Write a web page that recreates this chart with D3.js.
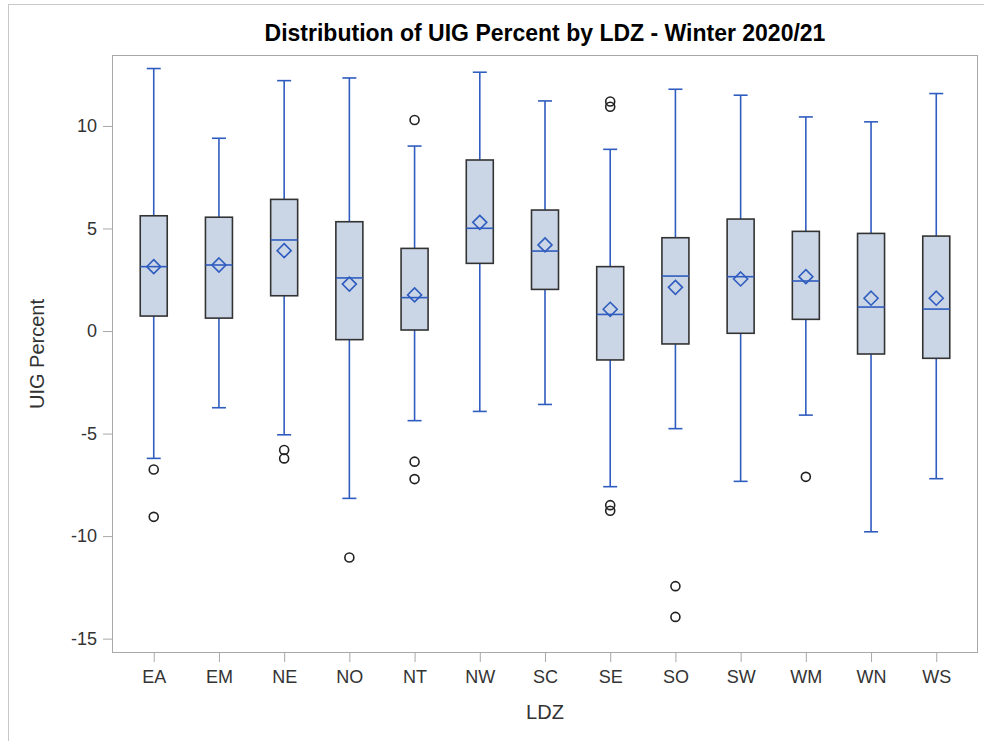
<!DOCTYPE html>
<html lang="en">
  <head>
    <meta charset="utf-8" />
    <title>UIG Percent by LDZ</title>
    <script src="https://cdn.jsdelivr.net/npm/d3@7"></script>
    <style>
      body { margin: 0; background: #fff; }
      svg { display: block; font-family: "Liberation Sans", Arial, sans-serif; }
    </style>
  </head>
  <body>
    <script>
      // values (UIG percent)
      const ldz = ["EA", "EM", "NE", "NO", "NT", "NW", "SC", "SE", "SO", "SW", "WM", "WN", "WS"];
      const whiskerLow = [-6.21, -3.74, -5.06, -8.16, -4.37, -3.92, -3.58, -7.59, -4.76, -7.33, -4.1, -9.79, -7.2];
      const q1 = [0.73, 0.63, 1.72, -0.42, 0.05, 3.3, 2.03, -1.41, -0.63, -0.11, 0.57, -1.12, -1.33];
      const median = [3.14, 3.22, 4.44, 2.59, 1.63, 5.01, 3.9, 0.81, 2.68, 2.65, 2.44, 1.17, 1.07];
      const q3 = [5.62, 5.55, 6.42, 5.33, 4.03, 8.34, 5.9, 3.14, 4.55, 5.46, 4.86, 4.76, 4.63];
      const whiskerHigh = [12.8, 9.4, 12.21, 12.34, 9.02, 12.62, 11.22, 8.86, 11.79, 11.5, 10.44, 10.2, 11.58];
      const mean = [3.14, 3.22, 3.92, 2.29, 1.76, 5.3, 4.2, 1.06, 2.13, 2.54, 2.65, 1.6, 1.6];
      const outliers = [
        [-6.75, -9.06],
        [],
        [-5.8, -6.21],
        [-11.04],
        [10.29, -6.37, -7.22],
        [],
        [],
        [11.19, 10.94, -8.49, -8.76],
        [-12.44, -13.94],
        [],
        [-7.11],
        [],
        []
      ];
      const yTicks = [-15, -10, -5, 0, 5, 10];

      const width = 984, height = 741;
      const plotL = 112, plotR = 978, plotT = 55, plotB = 653;
      const blue = "#2f5cbf", fill = "#cad5e6";

      const svg = d3.select("body").append("svg")
        .attr("width", width)
        .attr("height", height);

      // outer frame
      svg.append("rect")
        .attr("x", 8.5).attr("y", 4.5)
        .attr("width", width).attr("height", height)
        .attr("fill", "none").attr("stroke", "#c8c8c8");

      const x = d3.scalePoint().domain(ldz).range([plotL, plotR]).padding(0.64);
      const y = d3.scaleLinear().domain([-15.7, 13.46]).range([plotB, plotT]);

      // axes (plain hyphen for negatives, like the original)
      const yAxis = svg.append("g")
        .attr("transform", `translate(${plotL},0)`)
        .call(d3.axisLeft(y).tickValues(yTicks).tickSize(9).tickPadding(6).tickFormat(d => String(d)));
      const xAxis = svg.append("g")
        .attr("transform", `translate(0,${plotB})`)
        .call(d3.axisBottom(x).tickSize(9).tickPadding(8));
      [yAxis, xAxis].forEach(g => {
        g.select(".domain").remove();
        g.selectAll(".tick line").attr("stroke", "#a8a8a8");
        g.selectAll(".tick text").attr("fill", "#333").style("font-size", "18px")
          .style("font-family", "'Liberation Sans', Arial, sans-serif");
      });

      // plot frame
      svg.append("rect")
        .attr("x", plotL + 0.5).attr("y", plotT + 0.5)
        .attr("width", plotR - plotL - 1).attr("height", plotB - plotT - 1)
        .attr("fill", "none").attr("stroke", "#a8a8a8");

      const boxW = 27, capW = 14;
      const g = svg.append("g");
      ldz.forEach((k, i) => {
        const cx = x(k);
        // whiskers
        g.append("line")
          .attr("x1", cx).attr("x2", cx)
          .attr("y1", y(whiskerHigh[i])).attr("y2", y(q3[i]))
          .attr("stroke", blue).attr("stroke-width", 1.6);
        g.append("line")
          .attr("x1", cx).attr("x2", cx)
          .attr("y1", y(q1[i])).attr("y2", y(whiskerLow[i]))
          .attr("stroke", blue).attr("stroke-width", 1.6);
        [whiskerHigh[i], whiskerLow[i]].forEach(v => {
          g.append("line")
            .attr("x1", cx - capW / 2).attr("x2", cx + capW / 2)
            .attr("y1", y(v)).attr("y2", y(v))
            .attr("stroke", blue).attr("stroke-width", 1.6);
        });
        // box
        g.append("rect")
          .attr("x", cx - boxW / 2).attr("y", y(q3[i]))
          .attr("width", boxW).attr("height", y(q1[i]) - y(q3[i]))
          .attr("fill", fill).attr("stroke", "#333").attr("stroke-width", 1.6);
        g.append("line")
          .attr("x1", cx - boxW / 2).attr("x2", cx + boxW / 2)
          .attr("y1", y(median[i])).attr("y2", y(median[i]))
          .attr("stroke", blue).attr("stroke-width", 1.6);
        // mean diamond
        const my = y(mean[i]), d = 7;
        g.append("path")
          .attr("d", `M${cx},${my - d}L${cx + d},${my}L${cx},${my + d}L${cx - d},${my}Z`)
          .attr("fill", "none").attr("stroke", blue).attr("stroke-width", 1.6);
        // outliers
        outliers[i].forEach(v => {
          g.append("circle")
            .attr("cx", cx).attr("cy", y(v)).attr("r", 4.5)
            .attr("fill", "none").attr("stroke", "#222").attr("stroke-width", 1.6);
        });
      });

      // titles
      svg.append("text")
        .attr("x", (plotL + plotR) / 2).attr("y", 41)
        .attr("text-anchor", "middle")
        .style("font-size", "23px").style("font-weight", "bold")
        .attr("fill", "#000")
        .text("Distribution of UIG Percent by LDZ - Winter 2020/21");
      svg.append("text")
        .attr("transform", `translate(44,${(plotT + plotB) / 2}) rotate(-90)`)
        .attr("text-anchor", "middle")
        .style("font-size", "20px").attr("fill", "#333")
        .text("UIG Percent");
      svg.append("text")
        .attr("x", (plotL + plotR) / 2).attr("y", 719)
        .attr("text-anchor", "middle")
        .style("font-size", "20px").attr("fill", "#333")
        .text("LDZ");
    </script>
  </body>
</html>
